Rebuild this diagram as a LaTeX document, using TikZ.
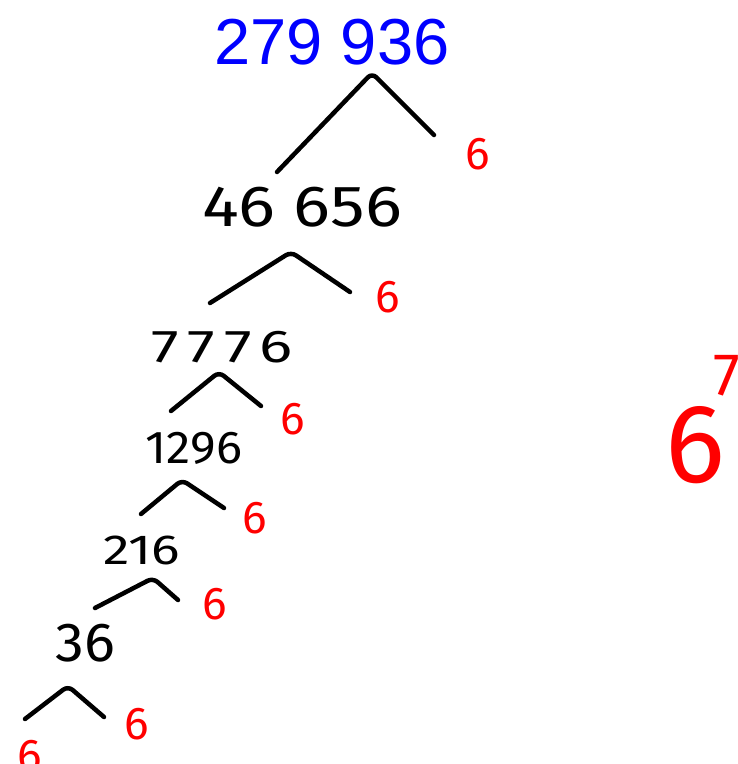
\documentclass[tikz,border=0pt]{standalone}
\usepackage{fontspec}
\setmainfont{Fira Sans}
\newfontfamily\printfont{Liberation Sans}
\usetikzlibrary{positioning}
\definecolor{inkred}{RGB}{255,0,0}
\definecolor{inkblue}{RGB}{0,0,255}
\newcommand\spread[2]{\scalebox{#1}[1]{#2}}

\begin{document}
\begin{tikzpicture}[
  x=1pt, y=-1pt,
  num/.style={inner sep=0pt, font=\fontsize{#1}{#1}\selectfont},
  fac/.style={inner sep=0pt, text=inkred, font=\fontsize{#1}{#1}\selectfont},
  branch/.style={line width=4.5pt, line cap=round, line join=round, rounded corners=6pt},
]
  \useasboundingbox (0,0) rectangle (738,764);

  % the number and the chain of quotients
  \node[inner sep=0pt, text=inkblue, font=\printfont\fontsize{65}{65}\selectfont] (n0) at (332,42) {279 936};
  \node[num=58] (n1) at (302,207) {\spread{1.19}{46 656}};
  \node[num=46] (n2) at (222,347) {\spread{1.35}{\addfontfeature{LetterSpace=14}7776}};
  \node[num=46] (n3) at (194,448) {\spread{1.06}{1296}};
  \node[num=42] (n4) at (142,550) {\spread{1.27}{216}};
  \node[num=55] (n5) at (85,643) {\spread{1.05}{36}};

  % the factors
  \node[fac=46] (f1) at (478,154) {6};
  \node[fac=46] (f2) at (388,297) {6};
  \node[fac=46] (f3) at (293,419) {6};
  \node[fac=46] (f4) at (255,518) {6};
  \node[fac=46] (f5) at (215,604) {6};
  \node[fac=46] (f6) at (137,724) {6};
  \node[fac=46] (f7) at (30,756) {6};

  \node[fac=60] (side7) at (727,376) {7};
  \node[fac=112] (side6) at (695,445) {6};

  % branches
  \coordinate (b1l) at (277,172); \coordinate (b1t) at (372,73);  \coordinate (b1r) at (434,135);
  \coordinate (b2l) at (210,303); \coordinate (b2t) at (291,252); \coordinate (b2r) at (350,292);
  \coordinate (b3l) at (171,411); \coordinate (b3t) at (219,372); \coordinate (b3r) at (261,406);
  \coordinate (b4l) at (141,514); \coordinate (b4t) at (182,480); \coordinate (b4r) at (224,508);
  \coordinate (b5l) at (95,608);  \coordinate (b5t) at (153,578); \coordinate (b5r) at (178,600);
  \coordinate (b6l) at (25,719);  \coordinate (b6t) at (68,686);  \coordinate (b6r) at (104,717);

  \foreach \i in {1,...,6}
    \draw[branch] (b\i l) -- (b\i t) -- (b\i r);
\end{tikzpicture}
\end{document}
